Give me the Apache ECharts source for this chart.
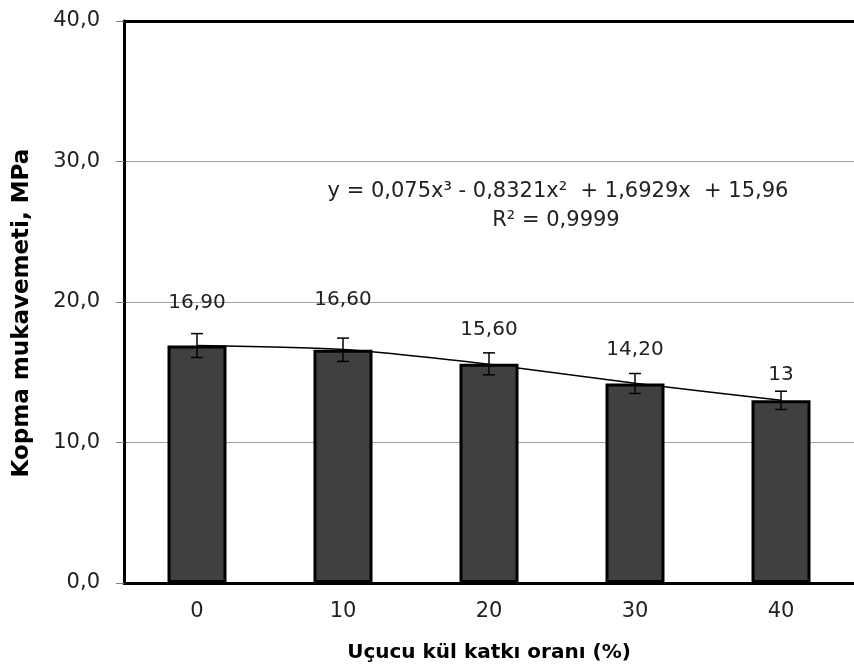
<!DOCTYPE html>
<html>
<head>
<meta charset="utf-8">
<script src="https://cdn.jsdelivr.net/npm/echarts@6/dist/echarts.min.js"></script>
<style>
html,body{margin:0;padding:0;background:#fff;}
#chart{width:854px;height:671px;}
</style>
</head>
<body>
<div id="chart"></div>
<script>
// ---- data ----
const categories = ['0', '10', '20', '30', '40'];
const strengthValues = [16.9, 16.6, 15.6, 14.2, 13.0];
const strengthLabels = ['16,90', '16,60', '15,60', '14,20', '13'];
const errorValues = [0.85, 0.83, 0.78, 0.71, 0.65];
const trendValues = [16.9, 16.62, 15.57, 14.22, 13.0];
const yTicks = [0, 10, 20, 30, 40];
const equationText = 'y = 0,075x³ - 0,8321x²  + 1,6929x  + 15,96';
const r2Text = 'R² = 0,9999';
const xAxisTitle = 'Uçucu kül katkı oranı (%)';
const yAxisTitle = 'Kopma mukavemeti, MPa';

// ---- layout (label gaps above bars) ----
const labelGaps = [33, 40, 24, 24, 16];

const FONT = 'DejaVu Sans';
const chart = echarts.init(document.getElementById('chart'), null, {renderer: 'canvas'});

const barData = strengthValues.map((v, i) => ({
  value: v,
  label: {
    show: true,
    position: 'top',
    distance: labelGaps[i],
    formatter: strengthLabels[i]
  }
}));

const errData = strengthValues.map((v, i) => [i, v - errorValues[i], v + errorValues[i]]);

chart.setOption({
  animation: false,
  backgroundColor: '#ffffff',
  textStyle: {fontFamily: FONT},
  grid: {left: 124, top: 21, width: 741, bottom: 88},
  xAxis: [{
    type: 'category',
    data: categories,
    position: 'bottom',
    axisLine: {show: true, lineStyle: {color: '#000', width: 3}},
    axisTick: {show: false},
    axisLabel: {fontSize: 21, color: '#222', margin: 18, fontFamily: FONT},
    name: xAxisTitle,
    nameLocation: 'middle',
    nameGap: 60,
    nameTextStyle: {fontSize: 20, fontWeight: 'bold', color: '#000', fontFamily: FONT}
  }, {
    type: 'category',
    data: categories,
    position: 'top',
    axisLine: {show: true, lineStyle: {color: '#000', width: 3}},
    axisTick: {show: false},
    axisLabel: {show: false}
  }],
  yAxis: {
    type: 'value',
    min: yTicks[0],
    max: yTicks[yTicks.length - 1],
    interval: 10,
    axisLine: {show: true, lineStyle: {color: '#000', width: 3}},
    axisTick: {show: true, length: 8, lineStyle: {color: '#808080', width: 1}},
    axisLabel: {
      fontSize: 21, color: '#222', margin: 24, fontFamily: FONT,
      formatter: v => v.toFixed(1).replace('.', ',')
    },
    splitLine: {show: true, lineStyle: {color: '#a0a0a0', width: 1}},
    name: yAxisTitle,
    nameLocation: 'middle',
    nameGap: 90,
    nameRotate: 90,
    nameTextStyle: {fontSize: 23, fontWeight: 'bold', color: '#000', fontFamily: FONT, padding: [0, 22, 0, 0]}
  },
  series: [{
    type: 'line',
    data: trendValues,
    smooth: 0.2,
    symbol: 'none',
    z: 1,
    lineStyle: {color: '#000', width: 1.5}
  }, {
    type: 'bar',
    data: barData,
    barWidth: 59,
    z: 2,
    itemStyle: {color: '#404040', borderColor: '#000', borderWidth: 3},
    label: {fontSize: 20, color: '#222', fontFamily: FONT}
  }, {
    type: 'custom',
    data: errData,
    z: 5,
    renderItem: function (params, api) {
      const x = api.value(0);
      const lo = api.coord([x, api.value(1)]);
      const hi = api.coord([x, api.value(2)]);
      const hw = 6;
      const style = {stroke: '#000', lineWidth: 1.5};
      return {
        type: 'group',
        children: [
          {type: 'line', shape: {x1: lo[0], y1: lo[1], x2: hi[0], y2: hi[1]}, style: style},
          {type: 'line', shape: {x1: lo[0] - hw, y1: lo[1], x2: lo[0] + hw, y2: lo[1]}, style: style},
          {type: 'line', shape: {x1: hi[0] - hw, y1: hi[1], x2: hi[0] + hw, y2: hi[1]}, style: style}
        ]
      };
    }
  }],
  graphic: [{
    type: 'text',
    x: 558, y: 192,
    style: {text: equationText, fontSize: 21, fontFamily: FONT, fill: '#222', align: 'center', verticalAlign: 'middle'}
  }, {
    type: 'text',
    x: 556, y: 221,
    style: {text: r2Text, fontSize: 21, fontFamily: FONT, fill: '#222', align: 'center', verticalAlign: 'middle'}
  }]
});
</script>
</body>
</html>
